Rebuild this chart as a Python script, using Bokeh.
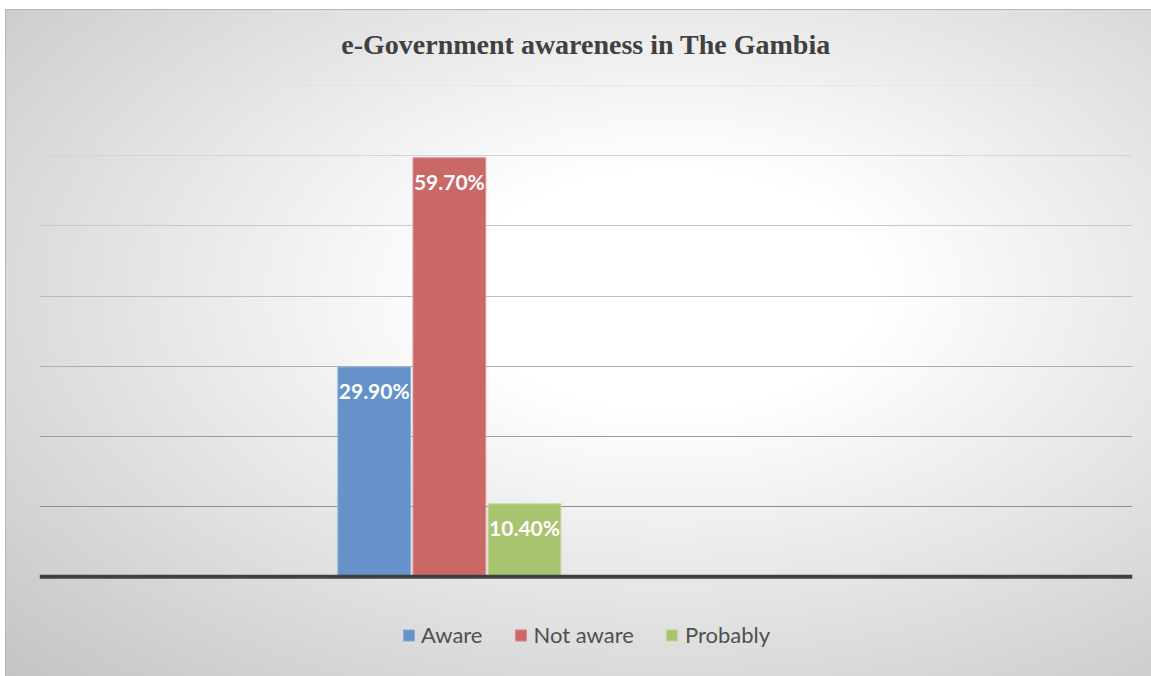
from bokeh.plotting import figure
from bokeh.models import Range1d, Legend, LegendItem, ColumnDataSource, Span
from bokeh.core.properties import value
from bokeh.embed import file_html
from bokeh.resources import INLINE

title = "e-Government awareness in The Gambia"
series = ["Aware", "Not aware", "Probably"]
values = [29.9, 59.7, 10.4]
colors = ["#6592c8", "#c96866", "#a9c471"]
edge_colors = ["#8cafda", "#dc8f8d", "#c3d995"]
grid_ticks = [10, 20, 30, 40, 50, 60, 70]
grid_colors = ["#8e8e8e", "#9e9e9e", "#adadad", "#bcbcbc", "#c9c9c9", "#d4d4d4", "#dcdcdc"]

n_slots = 4
group_center = 1.5
step = 0.275
bar_w = 0.266

p = figure(width=1151, height=676, output_backend="svg", toolbar_location=None,
           x_range=Range1d(0, n_slots), y_range=Range1d(-14.2, 70),
           min_border_left=39, min_border_right=19, min_border_top=84,
           min_border_bottom=0)
p.styles = {
    "background-image": "radial-gradient(ellipse farthest-corner at 58% 42%, #ffffff 0%, #ffffff 22%, #c4c4c4 100%), linear-gradient(#b8b8b8, #b8b8b8)",
    "background-position": "6px 10px, 5px 9px",
    "background-size": "calc(100% - 6px) calc(100% - 10px), calc(100% - 5px) calc(100% - 9px)",
    "background-repeat": "no-repeat",
    "background-color": "#ffffff",
}
p.background_fill_alpha = 0
p.border_fill_alpha = 0
p.outline_line_color = None

p.title.text = title
p.title.align = "center"
p.title.text_font = "Liberation Serif"
p.title.text_font_style = "bold"
p.title.text_font_size = "28px"
p.title.text_color = "#404040"
p.title.standoff = 52

p.hspan(y=grid_ticks, line_color=grid_colors, line_width=1)

xs = [group_center + (i - 1) * step for i in range(len(series))]
items = []
for i, (s, v) in enumerate(zip(series, values)):
    r = p.vbar(x=[xs[i]], top=[v], width=bar_w, bottom=0, fill_color=colors[i],
               line_color=edge_colors[i], line_width=1)
    items.append(LegendItem(label=s, renderers=[r]))

src = ColumnDataSource(dict(x=xs, y=values, t=[f"{v:.2f}%" for v in values]))
p.text(x="x", y="y", text="t", source=src, text_align="center", text_baseline="top",
       y_offset=11, text_color="white", text_font=value("Lato"), text_font_style="bold",
       text_font_size="21px")

p.add_layout(Span(location=0, dimension="width", line_color="#404040", line_width=4))

legend = Legend(items=items, orientation="horizontal", location="bottom_center",
                label_text_font="Lato", label_text_font_size="22px",
                label_text_color="#505050", glyph_width=14, glyph_height=14,
                spacing=31, label_standoff=6, border_line_color=None,
                background_fill_alpha=0, margin=28, padding=0)
p.add_layout(legend)

p.xaxis.visible = False
p.yaxis.visible = False
p.xgrid.visible = False
p.ygrid.visible = False

open("out.html", "w").write(file_html(p, INLINE))
